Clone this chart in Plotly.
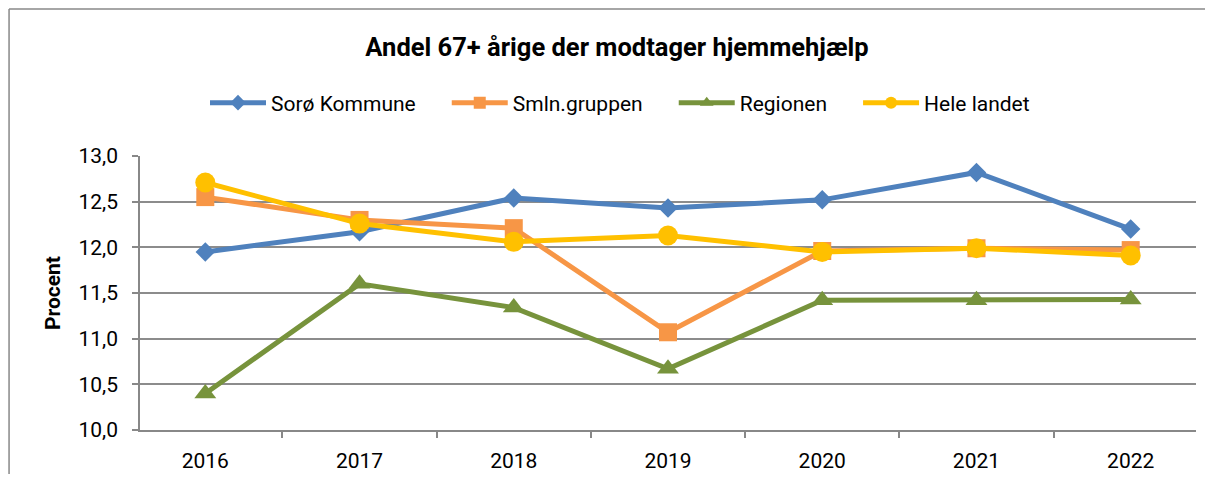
import plotly.graph_objects as go

# Data
aar = ["2016", "2017", "2018", "2019", "2020", "2021", "2022"]
soroe = [11.95, 12.17, 12.54, 12.43, 12.52, 12.82, 12.20]
smln = [12.55, 12.30, 12.21, 11.07, 11.96, 11.99, 11.97]
regionen = [10.40, 11.60, 11.34, 10.67, 11.42, 11.42, 11.43]
hele_landet = [12.71, 12.26, 12.06, 12.13, 11.95, 11.99, 11.91]

NBSP = "\u00a0"
serier = [
    ("Sorø Kommune" + NBSP * 5, soroe, "#4F81BD", "diamond", 15),
    ("Smln.gruppen" + NBSP * 5, smln, "#F79646", "square", 18),
    ("Regionen" + NBSP * 5, regionen, "#77933C", "triangle-up", 19),
    ("Hele landet", hele_landet, "#FFC000", "circle", 20),
]

W, H = 1197, 466

fig = go.Figure()
for navn, vaerdier, farve, symbol, str_ in serier:
    fig.add_trace(go.Scatter(
        x=aar, y=vaerdier,
        mode="lines+markers",
        name=navn,
        line=dict(color=farve, width=5),
        marker=dict(color=farve, symbol=symbol, size=str_),
    ))

# Ramme om diagrammet (kun top og venstre side er synlige)
ramme = dict(type="line", xref="paper", yref="paper",
             line=dict(color="#888888", width=1.5), layer="below")
fig.add_shape(x0=-0.124, x1=1.2, y0=1.5365, y1=1.5365, **ramme)
fig.add_shape(x0=-0.124, x1=-0.124, y0=-0.3, y1=1.5365, **ramme)

fig.update_layout(
    title=dict(
        text="<b>Andel 67+ årige der modtager hjemmehjælp</b>",
        x=(617 - 8) / W, xanchor="center", xref="container",
        y=1 - 39 / H, yanchor="middle", yref="container",
        font=dict(size=25.5, color="black"),
    ),
    font=dict(family="Roboto", size=21, color="black"),
    separators=",.",
    width=W, height=H,
    margin=dict(l=132, r=9, t=148, b=44),
    plot_bgcolor="white",
    paper_bgcolor="white",
    legend=dict(
        orientation="h", x=(205 - 8) / W, xanchor="left", xref="container",
        y=1 - 95 / H, yanchor="middle", yref="container",
        font=dict(size=21),
        itemwidth=56,
        itemsizing="constant",
        tracegroupgap=0,
    ),
    xaxis=dict(
        type="category",
        automargin=False,
        showline=True, linecolor="#888888", linewidth=1.5,
        ticks="outside", tickson="boundaries", ticklen=6,
        tickcolor="#888888", tickwidth=1.5,
        showgrid=False,
        tickfont=dict(size=21),
        ticklabelstandoff=11,
    ),
    yaxis=dict(
        range=[10, 13], dtick=0.5, tickformat=".1f",
        automargin=False,
        showline=True, linecolor="#888888", linewidth=1.5,
        ticks="outside", ticklen=6, tickcolor="#888888", tickwidth=1.5,
        showgrid=True, gridcolor="#8c8c8c", gridwidth=1.5,
        zeroline=False,
        title=dict(text="<b>Procent</b>", font=dict(size=21), standoff=12),
        tickfont=dict(size=21),
        ticklabelstandoff=10,
    ),
)

fig.write_html("out.html")
